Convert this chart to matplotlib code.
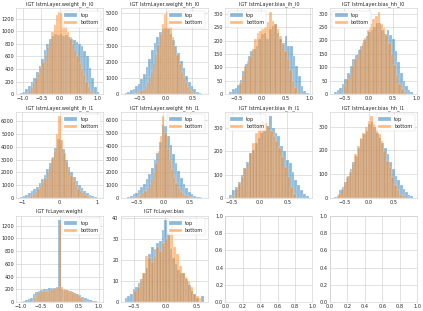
import numpy as np
import matplotlib
matplotlib.use("Agg")
import matplotlib.pyplot as plt
from matplotlib.ticker import MultipleLocator
import seaborn as sns

# histogram data (counts per bin, bin range)
titles = ["IGT lstmLayer.weight_ih_l0", "IGT lstmLayer.weight_hh_l0",
          "IGT lstmLayer.bias_ih_l0", "IGT lstmLayer.bias_hh_l0",
          "IGT lstmLayer.weight_ih_l1", "IGT lstmLayer.weight_hh_l1",
          "IGT lstmLayer.bias_ih_l1", "IGT lstmLayer.bias_hh_l1",
          "IGT fcLayer.weight", "IGT fcLayer.bias"]

top_ranges = [(-1.07, 1.05), (-0.78, 0.72), (-0.66, 0.97), (-0.72, 0.92),
              (-1.05, 1.05), (-0.72, 0.76), (-0.55, 0.88), (-0.71, 0.89),
              (-1.02, 1.02), (-0.65, 0.62)]
bottom_ranges = [(-0.9, 0.92), (-0.6, 0.6), (-0.45, 0.78), (-0.52, 0.78),
                 (-0.9, 0.9), (-0.6, 0.6), (-0.5, 0.65), (-0.62, 0.72),
                 (-0.72, 0.72), (-0.5, 0.58)]

top_wih0 = [15, 40, 80, 130, 190, 250, 360, 440, 560, 700, 800, 870, 930, 960, 940,
            950, 920, 940, 900, 880, 860, 830, 800, 760, 680, 600, 420, 250, 120, 40]
bot_wih0 = [20, 60, 120, 180, 250, 330, 420, 510, 620, 750, 850, 980, 1100, 1250, 1300,
            1280, 1180, 1080, 990, 900, 800, 700, 600, 500, 400, 300, 200, 110, 50, 15]

top_whh0 = [60, 120, 250, 350, 500, 650, 950, 1250, 1650, 2150, 2700, 3150, 3500, 3850, 4000,
            4100, 4000, 3700, 3350, 2950, 2550, 2050, 1600, 1100, 750, 480, 300, 170, 80, 30]
bot_whh0 = [30, 60, 110, 200, 330, 500, 750, 1050, 1450, 1900, 2450, 3050, 3700, 4300, 4950,
            5050, 4700, 4150, 3550, 2950, 2400, 1850, 1400, 1000, 700, 450, 280, 160, 80, 35]

top_bih0 = [10, 19, 23, 35, 54, 86, 111, 142, 161, 168, 180, 205, 224, 230, 205,
            243, 256, 262, 230, 205, 193, 218, 180, 180, 142, 105, 67, 29, 14, 4]
bot_bih0 = [42, 73, 105, 123, 142, 168, 205, 230, 237, 243, 249, 268, 306, 275, 262,
            243, 218, 186, 161, 130, 92, 48, 23, 6]

top_bhh0 = [10, 15, 25, 40, 55, 80, 105, 130, 145, 165, 180, 200, 215, 230, 240,
            250, 265, 265, 240, 225, 240, 220, 205, 160, 120, 80, 50, 30, 15, 8]
bot_bhh0 = [35, 55, 75, 105, 130, 150, 170, 190, 210, 240, 260, 280, 290, 305, 260,
            245, 220, 190, 150, 110, 70, 40, 20, 8]

top_wih1 = [60, 140, 230, 370, 520, 700, 900, 1150, 1500, 1800, 2300, 2750, 3200, 3900, 4600,
            4500, 3800, 3000, 2450, 2000, 1650, 1300, 1000, 780, 580, 420, 280, 170, 100, 40]
bot_wih1 = [40, 100, 200, 330, 500, 700, 950, 1250, 1600, 2000, 2500, 3100, 3700, 5000, 6400,
            4500, 3500, 2800, 2200, 1700, 1300, 1000, 750, 550, 380, 250, 150, 80, 30]

top_whh1 = [40, 90, 170, 280, 420, 600, 820, 1100, 1450, 1850, 2350, 2900, 3500, 4300, 5600,
            5500, 4800, 4100, 3400, 2700, 2100, 1550, 1100, 750, 480, 300, 180, 100, 50, 20]
bot_whh1 = [20, 50, 100, 170, 270, 400, 580, 800, 1100, 1500, 2000, 2700, 3600, 4800, 6300,
            5000, 3800, 2900, 2200, 1600, 1150, 800, 550, 360, 230, 140, 80, 40, 15]

top_bih1 = [15, 36, 48, 70, 99, 128, 157, 193, 207, 236, 258, 280, 294, 309, 352,
            301, 280, 265, 222, 200, 164, 149, 113, 77, 55, 33, 19, 9]
bot_bih1 = [8, 41, 62, 91, 128, 149, 193, 236, 280, 316, 330, 323, 309, 287, 265,
            243, 214, 178, 135, 91, 48, 19]

top_bhh1 = [4, 11, 32, 46, 67, 94, 122, 150, 178, 212, 247, 268, 282, 310, 317,
            296, 275, 254, 233, 212, 185, 150, 122, 94, 74, 53, 39, 25, 14, 7]
bot_bhh1 = [18, 39, 60, 88, 108, 143, 185, 219, 254, 275, 296, 324, 344, 310, 296,
            268, 240, 199, 157, 129, 88, 53, 32, 15, 7]

top_fcw = [5, 12, 25, 40, 70, 120, 160, 175, 190, 200, 210, 215, 220, 225, 230,
           1290, 200, 195, 190, 175, 160, 140, 120, 105, 80, 60, 40, 26, 15, 10, 4]
bot_fcw = [20, 60, 110, 150, 160, 165, 170, 175, 180, 190, 200, 210, 220, 240,
           1230, 230, 210, 200, 190, 180, 170, 160, 140, 120, 100, 60, 30, 12, 5]

top_fcb = [2, 3, 4, 6, 7, 9, 11, 14, 16, 23, 26, 25, 28, 29, 34,
           39, 33, 25, 21, 18, 15, 14, 14, 11, 8, 5, 4, 2, 0, 3]
bot_fcb = [5, 7, 10, 14, 22, 21, 19, 22, 26, 24, 28, 30, 33, 37, 26,
           23, 17, 14, 12, 10, 7, 4, 3, 2]

top_counts = [top_wih0, top_whh0, top_bih0, top_bhh0, top_wih1,
              top_whh1, top_bih1, top_bhh1, top_fcw, top_fcb]
bottom_counts = [bot_wih0, bot_whh0, bot_bih0, bot_bhh0, bot_wih1,
                 bot_whh1, bot_bih1, bot_bhh1, bot_fcw, bot_fcb]

# tick spacing seen on each panel (x step, y step)
x_steps = [0.5, 0.5, 0.5, 0.5, 1.0, 0.5, 0.5, 0.5, 0.5, 0.5]
y_steps = [200, 1000, 50, 50, 1000, 1000, 100, 100, 200, 10]
legend_locs = ["upper right", "upper right", "upper left", "upper left",
               "upper right", "upper right", "upper left", "upper right",
               "upper right", "upper right"]

sns.set_style("whitegrid")
fs = 3.6
plt.rcParams["font.size"] = fs
plt.rcParams["grid.linewidth"] = 0.4
plt.rcParams["axes.linewidth"] = 0.4
plt.rcParams["patch.linewidth"] = 0.3


def draw_hist(ax, counts, rng, label):
    edges = np.linspace(rng[0], rng[1], len(counts) + 1)
    centers = (edges[:-1] + edges[1:]) / 2
    ax.hist(centers, bins=edges, weights=counts, alpha=0.5, label=label)


fig, axes = plt.subplots(3, 4, figsize=(4.23, 3.11), dpi=100)
axes = axes.ravel()

for i in range(len(titles)):
    ax = axes[i]
    draw_hist(ax, top_counts[i], top_ranges[i], "top")
    draw_hist(ax, bottom_counts[i], bottom_ranges[i], "bottom")
    ax.set_title(titles[i], fontsize=fs, pad=2)
    ax.xaxis.set_major_locator(MultipleLocator(x_steps[i]))
    ax.yaxis.set_major_locator(MultipleLocator(y_steps[i]))
    ax.legend(loc=legend_locs[i], fontsize=fs, handlelength=2.6,
              borderpad=0.45, labelspacing=0.5, handletextpad=0.6)

for ax in axes[10:]:
    ax.xaxis.set_major_locator(MultipleLocator(0.2))
    ax.yaxis.set_major_locator(MultipleLocator(0.2))

for ax in axes:
    ax.tick_params(length=0, pad=1.5, labelsize=fs)

fig.subplots_adjust(left=0.038, right=0.986, top=0.974, bottom=0.029,
                    wspace=0.2, hspace=0.205)
plt.savefig("out.png", dpi=100)
